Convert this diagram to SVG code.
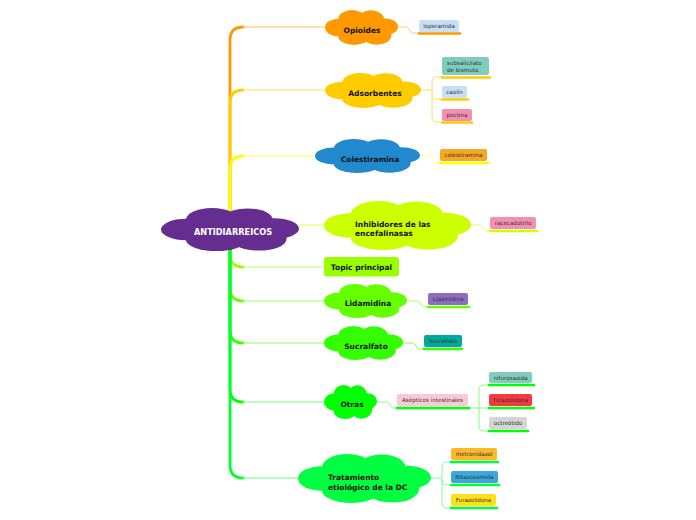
<svg xmlns="http://www.w3.org/2000/svg" xmlns:xlink="http://www.w3.org/1999/xlink" width="696" height="520" viewBox="0 0 696 520">
<defs>
<symbol id="cloud" viewBox="0 0 100 50" preserveAspectRatio="none">
<ellipse cx="18" cy="25" rx="18" ry="12.5"/>
<ellipse cx="37" cy="14" rx="19" ry="14"/>
<ellipse cx="63" cy="14" rx="18" ry="13.5"/>
<ellipse cx="82" cy="24" rx="18" ry="12"/>
<ellipse cx="71" cy="36" rx="20" ry="13.5"/>
<ellipse cx="40" cy="37" rx="22" ry="13"/>
<ellipse cx="50" cy="25" rx="38" ry="17"/>
</symbol>
</defs>
<style>
.t{font-family:"DejaVu Sans","Verdana",sans-serif;font-weight:bold;font-size:7.5px;fill:#111}
.tm{text-anchor:middle}
.leaf{font-family:"DejaVu Sans","Verdana",sans-serif;font-size:5.6px;fill:#333;text-anchor:middle}
.box{stroke:none}
.ul{stroke-width:2.6;stroke-linecap:round;fill:none}
.trunk{fill:none;stroke-width:2.8;stroke-linecap:round}
.br{fill:none;stroke-width:1.1}
.sub{fill:none;stroke-width:1}
</style>
<rect width="696" height="520" fill="#ffffff"/>

<g id="connectors">
<path class="trunk" d="M230,232 V40 Q230,27 243,27" stroke="#FF9900"/>
<path class="br" d="M242,27 H327" stroke="#FFC266"/>
<path class="trunk" d="M230,232 V103 Q230,90 243,90" stroke="#FFCC00"/>
<path class="br" d="M242,90 H327" stroke="#FFDD55"/>
<path class="trunk" d="M230,232 V169 Q230,156 243,156" stroke="#FFFF00"/>
<path class="br" d="M242,156 H318" stroke="#FFFF55"/>
<path class="br" d="M290,225 H327" stroke="#DDFF55"/>
<path class="trunk" d="M230,232 V254 Q230,267 243,267" stroke="#99FF00"/>
<path class="br" d="M242,267 H326" stroke="#BBFF66"/>
<path class="trunk" d="M230,232 V288 Q230,301 243,301" stroke="#66FF00"/>
<path class="br" d="M242,301 H327" stroke="#99FF66"/>
<path class="trunk" d="M230,232 V330 Q230,343 243,343" stroke="#33FF00"/>
<path class="br" d="M242,343 H327" stroke="#88FF66"/>
<path class="trunk" d="M230,232 V389 Q230,402 243,402" stroke="#00FF00"/>
<path class="br" d="M242,402 H327" stroke="#77FF77"/>
<path class="trunk" d="M230,232 V465 Q230,478 243,478" stroke="#00FF33"/>
<path class="br" d="M242,478 H301" stroke="#66FF88"/>
<path class="sub" d="M396,27 H405 C410,27 409,33 414,33 H419" stroke="#FFC880"/>
<path class="sub" d="M419,90 H432" stroke="#FFDD66"/>
<path class="sub" d="M442,77 H437 Q432,77 432,82 V117 Q432,122 437,122 H442" stroke="#FFDD66"/>
<path class="sub" d="M432,94 Q432,99 437,99 H442" stroke="#FFDD66"/>
<path class="sub" d="M418,156 H430 C435,156 433,163 438,163 H441" stroke="#FFFF77"/>
<path class="sub" d="M469,225 H479 C484,225 482,231 487,231 H490" stroke="#E0FF66"/>
<path class="sub" d="M406,301 H417 C422,301 420,307 425,307 H429" stroke="#A0FF70"/>
<path class="sub" d="M402,343 H412 C417,343 415,349 420,349 H425" stroke="#88FF66"/>
<path class="sub" d="M375,402 H386 C391,402 389,408 394,408 H397" stroke="#80FF80"/>
<path class="sub" d="M468,408 H490" stroke="#80FF80"/>
<path class="sub" d="M490,385 H484 Q479,385 479,390 V426 Q479,431 484,431 H490" stroke="#80FF80"/>
<path class="sub" d="M429,478 H442" stroke="#80FF99"/>
<path class="sub" d="M452,462 H447 Q442,462 442,467 V503 Q442,508 447,508 H452" stroke="#80FF99"/>
<path class="sub" d="M442,480 Q442,485 447,485 H452" stroke="#80FF99"/>
</g>

<g id="root">
<use xlink:href="#cloud" href="#cloud" x="161" y="208" width="138" height="43" fill="#662D91"/>
<text class="t tm" x="233" y="235" style="fill:#ffffff;font-size:8.2px">ANTIDIARREICOS</text>
</g>

<g id="opioides">
<use xlink:href="#cloud" href="#cloud" x="325" y="10" width="73" height="35" fill="#FF9900"/>
<text class="t tm" x="362" y="33">Opioides</text>
</g>
<g id="adsorbentes">
<use xlink:href="#cloud" href="#cloud" x="325" y="73" width="96" height="35" fill="#FFCC00"/>
<text class="t tm" x="375" y="96">Adsorbentes</text>
</g>
<g id="colestiramina">
<use xlink:href="#cloud" href="#cloud" x="315" y="139" width="105" height="34" fill="#2389CE"/>
<text class="t tm" x="370" y="162">Colestiramina</text>
</g>
<g id="inhibidores">
<use xlink:href="#cloud" href="#cloud" x="324" y="201" width="147" height="49" fill="#CCFF00"/>
<text class="t" x="355" y="226.7">Inhibidores de las</text>
<text class="t" x="355" y="236">encefalinasas</text>
</g>
<g id="topic">
<rect x="324" y="257" width="75" height="19.5" rx="3" fill="#99FF00"/>
<text class="t tm" x="361.5" y="269.8">Topic principal</text>
</g>
<g id="lidamidina">
<use xlink:href="#cloud" href="#cloud" x="324" y="284" width="83" height="34" fill="#66FF00"/>
<text class="t tm" x="368" y="306">Lidamidina</text>
</g>
<g id="sucralfato">
<use xlink:href="#cloud" href="#cloud" x="324" y="326" width="79" height="34" fill="#33FF00"/>
<text class="t tm" x="366" y="348.5">Sucralfato</text>
</g>
<g id="otras">
<use xlink:href="#cloud" href="#cloud" x="324" y="385" width="53" height="34" fill="#00FF00"/>
<text class="t tm" x="352" y="407">Otras</text>
</g>
<g id="tratamiento">
<use xlink:href="#cloud" href="#cloud" x="298" y="454" width="133" height="49" fill="#00FF40"/>
<text class="t" x="328" y="480">Tratamiento</text>
<text class="t" x="328" y="490">etiológico de la DC</text>
</g>

<g id="loperamida">
<rect class="box" x="419" y="20" width="40" height="12" rx="2" fill="#C6E0F5"/>
<path class="ul" d="M419,33.5 H460" stroke="#FF9900"/>
<text class="leaf" x="439" y="28">loperamida</text>
</g>
<g id="subsalicilato">
<rect class="box" x="442" y="57" width="47" height="18" rx="2" fill="#7FCDBE"/>
<path class="ul" d="M442,77.5 H490" stroke="#FFCC00"/>
<text class="leaf" x="447" y="65.3" style="text-anchor:start">subsalicilato</text>
<text class="leaf" x="447" y="72.3" style="text-anchor:start">de bismuto</text>
</g>
<g id="caolin">
<rect class="box" x="442" y="86" width="25" height="12" rx="2" fill="#C6E0F5"/>
<path class="ul" d="M442,99.5 H468" stroke="#FFCC00"/>
<text class="leaf" x="454.5" y="94">caolín</text>
</g>
<g id="pectina">
<rect class="box" x="442" y="109" width="30" height="12" rx="2" fill="#F48FB1"/>
<path class="ul" d="M442,122.5 H472" stroke="#FFCC00"/>
<text class="leaf" x="457" y="117">pectina</text>
</g>
<g id="colestiramina-leaf">
<rect class="box" x="440" y="149" width="47" height="12" rx="2" fill="#F7A823"/>
<path class="ul" d="M440,163 H488" stroke="#FFFF00"/>
<text class="leaf" x="463.5" y="157">colestiramina</text>
</g>
<g id="racecadotrilo">
<rect class="box" x="490" y="217" width="46" height="12" rx="2" fill="#F48FB1"/>
<path class="ul" d="M490,231 H537" stroke="#CCFF00"/>
<text class="leaf" x="513" y="225">racecadotrilo</text>
</g>
<g id="lidamidina-leaf">
<rect class="box" x="428" y="293" width="40" height="12" rx="2" fill="#8E6CC2"/>
<path class="ul" d="M428,307 H469" stroke="#66FF00"/>
<text class="leaf" x="448" y="301">Lidamidina</text>
</g>
<g id="sucralfato-leaf">
<rect class="box" x="424" y="335" width="38" height="12" rx="2" fill="#00A99D"/>
<path class="ul" d="M424,349 H462" stroke="#33FF00"/>
<text class="leaf" x="443" y="343">Sucralfato</text>
</g>
<g id="asepticos">
<rect class="box" x="397" y="394" width="71" height="12" rx="2" fill="#F9C9D4"/>
<path class="ul" d="M397,408 H469" stroke="#00FF00"/>
<text class="leaf" x="432.5" y="402">Asépticos intestinales</text>
</g>
<g id="nifuroxazida">
<rect class="box" x="489" y="372" width="43" height="11" rx="2" fill="#80CCBF"/>
<path class="ul" d="M489,385 H534" stroke="#00FF00"/>
<text class="leaf" x="510.5" y="379.5">nifuroxazida</text>
</g>
<g id="furazolidona">
<rect class="box" x="489" y="394" width="43" height="12" rx="2" fill="#F53840"/>
<path class="ul" d="M489,408 H534" stroke="#00FF00"/>
<text class="leaf" x="510.5" y="402">furazolidona</text>
</g>
<g id="octreotido">
<rect class="box" x="489" y="417" width="38" height="12" rx="2" fill="#D5D5D5"/>
<path class="ul" d="M489,431 H528" stroke="#00FF00"/>
<text class="leaf" x="508" y="425">octreótido</text>
</g>
<g id="metronidazol">
<rect class="box" x="451" y="448" width="46" height="12" rx="2" fill="#FBB829"/>
<path class="ul" d="M451,462 H498" stroke="#00FF33"/>
<text class="leaf" x="474" y="456">metronidazol</text>
</g>
<g id="nitazoxamida">
<rect class="box" x="451" y="471" width="47" height="12" rx="2" fill="#3AA7DD"/>
<path class="ul" d="M451,485 H499" stroke="#00FF33"/>
<text class="leaf" x="474.5" y="479">Nitazoxamida</text>
</g>
<g id="furazolidona2">
<rect class="box" x="451" y="494" width="45" height="12" rx="2" fill="#FFE11A"/>
<path class="ul" d="M451,508 H497" stroke="#00FF33"/>
<text class="leaf" x="473.5" y="502">Furazolidona</text>
</g>
</svg>
